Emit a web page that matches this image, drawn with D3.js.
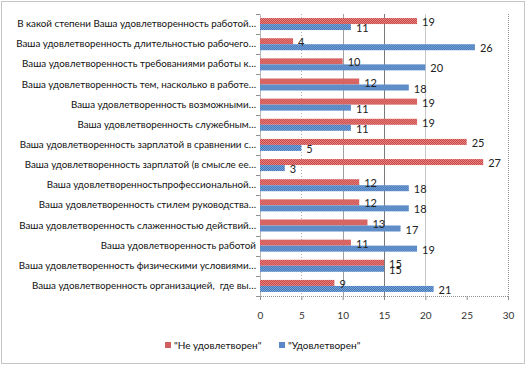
<!DOCTYPE html>
<html>
<head>
<meta charset="utf-8">
<script src="https://cdn.jsdelivr.net/npm/d3@7"></script>
<style>
  body { margin: 0; background: #fff; }
  svg { display: block; }
  text { font-family: Lato, "Liberation Sans", sans-serif; white-space: pre; }
</style>
</head>
<body>
<div id="chart"></div>
<script>
// categories, top to bottom as in the picture
const categories = [
	"В какой степени Ваша удовлетворенность работой…",
	"Ваша удовлетворенность длительностью рабочего…",
	"Ваша удовлетворенность требованиями работы к…",
	"Ваша удовлетворенность тем, насколько в работе…",
	"Ваша удовлетворенность возможными…",
	"Ваша удовлетворенность служебным…",
	"Ваша удовлетворенность зарплатой в сравнении с…",
	"Ваша удовлетворенность зарплатой (в смысле ее…",
	"Ваша удовлетворенностьпрофессиональной…",
	"Ваша удовлетворенность стилем руководства…",
	"Ваша удовлетворенность слаженностью действий…",
	"Ваша удовлетворенность работой",
	"Ваша удовлетворенность физическими условиями…",
	"Ваша удовлетворенность организацией,  где вы…"
];
const not_satisfied = [19, 4, 10, 12, 19, 19, 25, 27, 12, 12, 13, 11, 15, 9];
const satisfied = [11, 26, 20, 18, 11, 11, 5, 3, 18, 18, 17, 19, 15, 21];
const series_names = ["\"Не удовлетворен\"", "\"Удовлетворен\""];
const x_ticks = [0, 5, 10, 15, 20, 25, 30];

const width = 526, height = 365;
const plot = {left: 260, right: 508, top: 14, bottom: 296};

let svg = d3.select("#chart").append("svg")
	.attr("width", width)
	.attr("height", height);

// checkered fills like the office textures
const defs = svg.append("defs");
function checker(id, base, light) {
	let p = defs.append("pattern")
		.attr("id", id)
		.attr("width", 2).attr("height", 2)
		.attr("patternUnits", "userSpaceOnUse");
	p.append("rect").attr("width", 2).attr("height", 2).attr("fill", base);
	p.append("rect").attr("width", 1).attr("height", 1).attr("fill", light);
	p.append("rect").attr("x", 1).attr("y", 1).attr("width", 1).attr("height", 1).attr("fill", light);
}
checker("redfill", "#c9403f", "#e58a87");
checker("bluefill", "#3e74b8", "#7ea6d8");
const fills = ["url(#redfill)", "url(#bluefill)"];
const swatch = ["#d06060", "#5a88c8"];

// outer dotted frame
svg.append("rect")
	.attr("x", 1.5).attr("y", 1.5)
	.attr("width", width - 3).attr("height", height - 3)
	.attr("fill", "none")
	.attr("stroke", "#8a8a8a")
	.attr("stroke-dasharray", "1,1");

const x = d3.scaleLinear().domain([0, 30]).range([plot.left, plot.right]);
const y = d3.scaleBand().domain(categories).range([plot.top, plot.bottom]);

// vertical grid lines
const grid_style = {
	5: ["#b0b0b0", "1,2"],
	10: ["#a0a0a0", null],
	15: ["#7a7a7a", null],
	20: ["#c8c8c8", null],
	30: ["#909090", "1,1"]
};
svg.append("g").selectAll("line")
	.data(x_ticks.filter(d => grid_style[d]))
	.join("line")
	.attr("x1", d => Math.round(x(d)) + 0.5)
	.attr("x2", d => Math.round(x(d)) + 0.5)
	.attr("y1", plot.top)
	.attr("y2", plot.bottom)
	.attr("stroke", d => grid_style[d][0])
	.attr("stroke-dasharray", d => grid_style[d][1]);

// bottom axis
let x_axis = svg.append("g")
	.attr("transform", `translate(0,${plot.bottom})`)
	.call(d3.axisBottom(x).tickValues(x_ticks).tickSize(4).tickPadding(12));
x_axis.select(".domain").attr("stroke", "#909090").attr("stroke-dasharray", "1,1");
x_axis.selectAll(".tick line").attr("stroke", "#909090");
x_axis.selectAll("text")
	.attr("font-size", 10)
	.attr("fill", "#333")
	.style("font-family", "Lato, sans-serif");

// left axis (category labels)
let y_axis = svg.append("g")
	.attr("transform", `translate(${plot.left},0)`)
	.call(d3.axisLeft(y).tickSize(0).tickPadding(4));
y_axis.select(".domain").attr("stroke", "#b8b8b8");
y_axis.selectAll("text")
	.attr("font-size", 9.8)
	.attr("fill", "#111")
	.style("font-family", "Lato, sans-serif");
// small separators between categories
svg.append("g").selectAll("line")
	.data(d3.range(categories.length + 1))
	.join("line")
	.attr("x1", plot.left - 4).attr("x2", plot.left)
	.attr("y1", i => Math.round(plot.top + i * y.step()) + 0.5)
	.attr("y2", i => Math.round(plot.top + i * y.step()) + 0.5)
	.attr("stroke", "#909090");

// bars
const bar_h = 6;
const rows = categories.map((c, i) => ({c: c, vals: [not_satisfied[i], satisfied[i]]}));
let groups = svg.append("g").selectAll("g")
	.data(rows)
	.join("g")
	.attr("transform", d => `translate(0,${y(d.c) + y.bandwidth() / 2 - bar_h})`);

groups.selectAll("rect")
	.data(d => d.vals)
	.join("rect")
	.attr("x", x(0))
	.attr("y", (d, j) => j * bar_h)
	.attr("width", d => x(d) - x(0))
	.attr("height", bar_h)
	.attr("fill", (d, j) => fills[j]);

groups.selectAll("text")
	.data(d => d.vals)
	.join("text")
	.attr("x", d => x(d) + 5)
	.attr("y", (d, j) => j * bar_h + bar_h / 2 + 5)
	.attr("font-size", 11)
	.attr("fill", "#222")
	.text(d => d);

// legend
const legend_x = [165, 279];
let legend = svg.append("g").selectAll("g")
	.data(series_names)
	.join("g")
	.attr("transform", (d, i) => `translate(${legend_x[i]},345)`);
legend.append("rect")
	.attr("x", 0).attr("y", -3)
	.attr("width", 6).attr("height", 6)
	.attr("fill", (d, i) => swatch[i]);
legend.append("text")
	.attr("x", 9).attr("y", 3.5)
	.attr("font-size", 10)
	.attr("fill", "#111")
	.text(d => d);
</script>
</body>
</html>
